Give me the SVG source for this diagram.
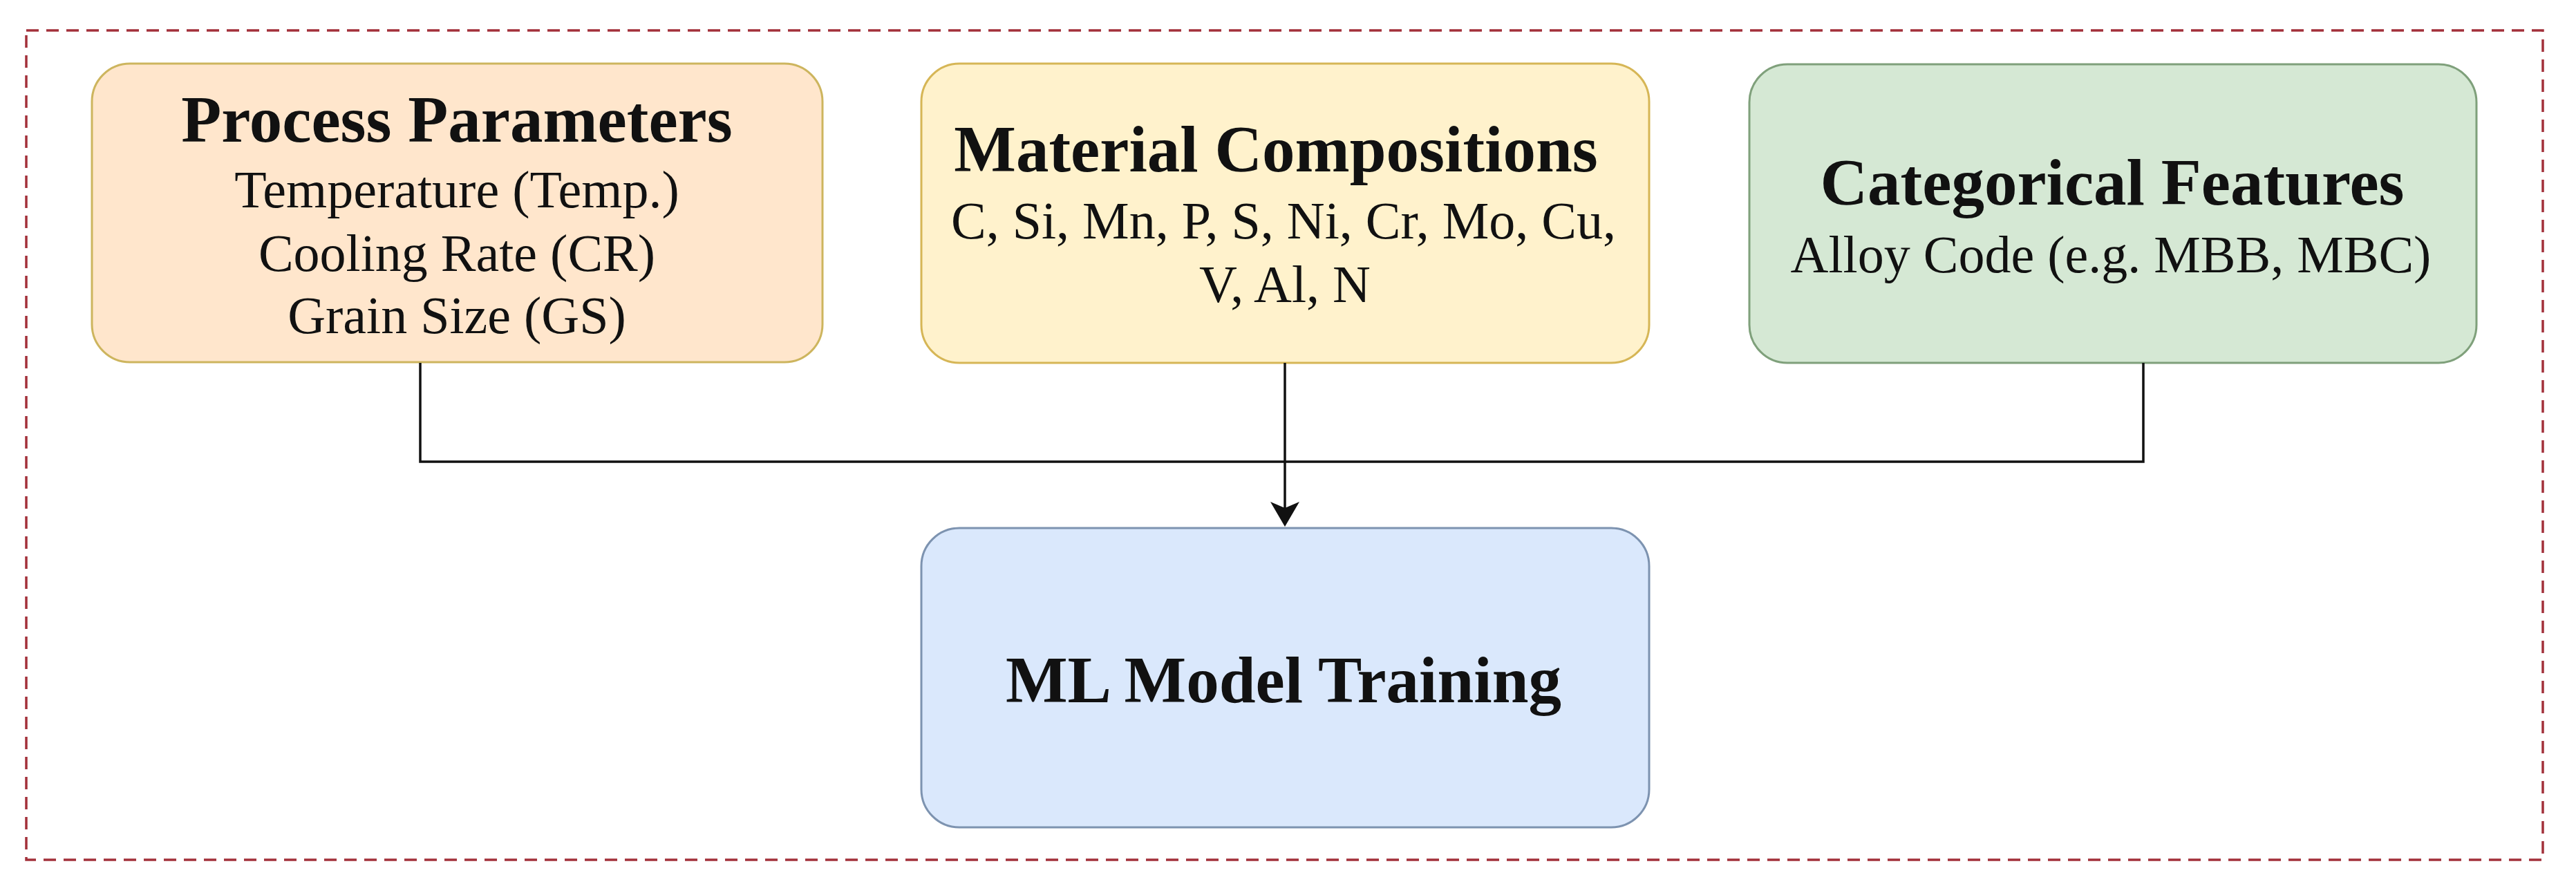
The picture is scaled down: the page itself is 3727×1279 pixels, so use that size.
<svg xmlns="http://www.w3.org/2000/svg" width="3727" height="1279" viewBox="0 0 3727 1279">
  <style>
    .box { stroke-width: 3; }
    .title { font-family: "Liberation Serif", "Times New Roman", serif; font-weight: bold; font-size: 95px; fill: #111; text-anchor: middle; }
    .body { font-family: "Liberation Serif", "Times New Roman", serif; font-size: 76px; fill: #111; text-anchor: middle; }
    .conn { fill: none; stroke: #111; stroke-width: 3.5; }
  </style>
  <defs>
    <marker id="arrow" markerUnits="userSpaceOnUse" viewBox="0 0 36 42" markerWidth="36" markerHeight="42" refX="9" refY="21" orient="auto">
      <path d="M0,0 L36,21 L0,42 L9,21 Z" fill="#111"/>
    </marker>
  </defs>
  <rect width="3727" height="1279" fill="#ffffff"/>
  <rect id="frame" x="38" y="44" width="3641" height="1200" fill="none" stroke="#a3303a" stroke-width="3.5" stroke-dasharray="18 11"/>

  <g id="process-parameters">
    <rect class="box" x="133" y="92" width="1057" height="432" rx="55" ry="55" fill="#ffe6cc" stroke="#cdb55e"/>
    <text class="title" x="661" y="205">Process Parameters</text>
    <text class="body" x="661" y="300">Temperature (Temp.)</text>
    <text class="body" x="661" y="392">Cooling Rate (CR)</text>
    <text class="body" x="661" y="482">Grain Size (GS)</text>
  </g>

  <g id="material-compositions">
    <rect class="box" x="1333" y="92" width="1053" height="433" rx="55" ry="55" fill="#fff2cc" stroke="#d6b656"/>
    <text class="title" x="1846" y="248">Material Compositions</text>
    <text class="body" x="1857" y="345">C, Si, Mn, P, S, Ni, Cr, Mo, Cu,</text>
    <text class="body" x="1859" y="437">V, Al, N</text>
  </g>

  <g id="categorical-features">
    <rect class="box" x="2531" y="93" width="1052" height="432" rx="55" ry="55" fill="#d5e8d4" stroke="#7fa07b"/>
    <text class="title" x="3056" y="296">Categorical Features</text>
    <text class="body" x="3054" y="394">Alloy Code (e.g. MBB, MBC)</text>
  </g>

  <g id="ml-model-training">
    <rect class="box" x="1333" y="764" width="1053" height="433" rx="55" ry="55" fill="#dae8fc" stroke="#7d93b0"/>
    <text class="title" x="1857" y="1016">ML Model Training</text>
  </g>

  <g id="connectors">
    <path class="conn" d="M608 525 V668 H1859"/>
    <path class="conn" d="M3101 525 V668 H1859"/>
    <path class="conn" d="M1859 525 V735" marker-end="url(#arrow)"/>
  </g>
</svg>
